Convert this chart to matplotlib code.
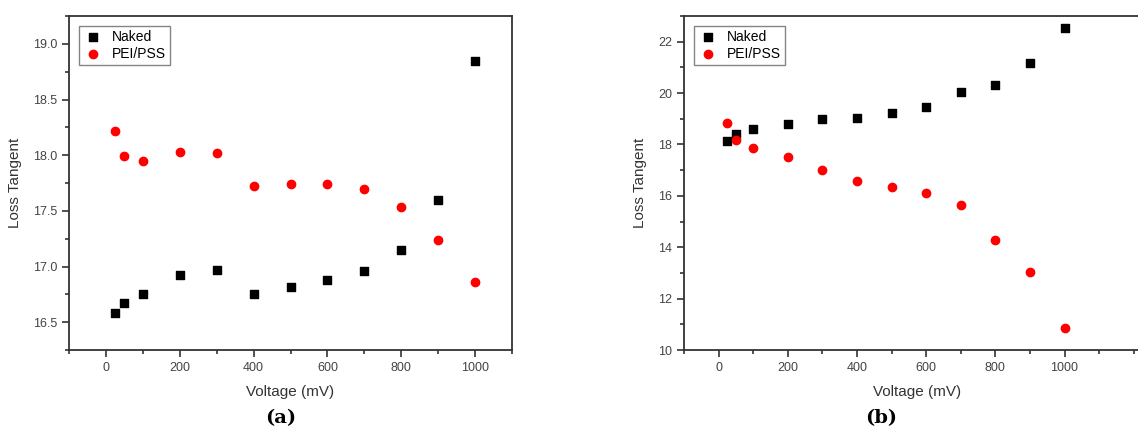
import numpy as np
import matplotlib.pyplot as plt
from matplotlib.ticker import MultipleLocator, FixedLocator

plt.rcParams['font.family'] = ['Liberation Sans', 'DejaVu Sans']

voltage = [25, 50, 100, 200, 300, 400, 500, 600, 700, 800, 900, 1000]
x_major = [0, 200, 400, 600, 800, 1000]

# panel (a)
naked_a = [16.58, 16.67, 16.75, 16.92, 16.97, 16.75, 16.82, 16.88, 16.96, 17.15, 17.60, 18.85]
pei_a = [18.22, 17.99, 17.95, 18.03, 18.02, 17.72, 17.74, 17.74, 17.70, 17.53, 17.24, 16.86]

# panel (b)
naked_b = [18.14, 18.40, 18.62, 18.80, 19.00, 19.03, 19.23, 19.45, 20.03, 20.31, 21.18, 22.55]
pei_b = [18.82, 18.18, 17.87, 17.53, 17.00, 16.57, 16.33, 16.11, 15.65, 14.28, 13.05, 10.86]

fig = plt.figure(figsize=(11.38, 4.32), dpi=100)
ax1 = fig.add_axes([69/1138, 82/432, 443/1138, 334/432])
ax2 = fig.add_axes([684/1138, 82/432, 467/1138, 334/432])

tick_col = '#444444'


def style(ax):
    for s in ax.spines.values():
        s.set_linewidth(1.3)
        s.set_color('#333333')
    ax.tick_params(which='both', direction='out', top=False, right=False,
                   labelsize=9, labelcolor=tick_col, color='#333333', width=1.2)
    ax.tick_params(which='major', length=5)
    ax.tick_params(which='minor', length=3)
    ax.xaxis.set_major_locator(FixedLocator(x_major))
    ax.xaxis.set_minor_locator(MultipleLocator(100))
    ax.set_xlabel('Voltage (mV)', fontsize=11, color='#333333', labelpad=8)
    ax.set_ylabel('Loss Tangent', fontsize=11, color='#333333', labelpad=8)


ax1.scatter(voltage, naked_a, marker='s', s=30, color='black', label='Naked', zorder=3)
ax1.scatter(voltage, pei_a, marker='o', s=36, color='red', label='PEI/PSS', zorder=3)
ax1.set_xlim(-100, 1100)
ax1.set_ylim(16.25, 19.25)
ax1.yaxis.set_major_locator(MultipleLocator(0.5))
ax1.yaxis.set_minor_locator(MultipleLocator(0.25))
ax1.yaxis.set_major_formatter(plt.FormatStrFormatter('%.1f'))
style(ax1)

ax2.scatter(voltage, naked_b, marker='s', s=30, color='black', label='Naked', zorder=3)
ax2.scatter(voltage, pei_b, marker='o', s=36, color='red', label='PEI/PSS', zorder=3)
ax2.set_xlim(-100, 1250)
ax2.set_ylim(10, 23)
ax2.yaxis.set_major_locator(MultipleLocator(2))
ax2.yaxis.set_minor_locator(MultipleLocator(1))
style(ax2)

for ax in (ax1, ax2):
    leg = ax.legend(loc='upper left', fontsize=10, frameon=True, fancybox=False,
                    borderpad=0.3, handletextpad=0.6, labelspacing=0.2,
                    handlelength=1.5, borderaxespad=0.7)
    leg.get_frame().set_edgecolor('#666666')
    leg.get_frame().set_linewidth(1.0)

fig.text(281/1138, 1 - 418/432, '(a)', ha='center', va='center', fontsize=14,
         fontweight='bold', family='DejaVu Serif')
fig.text(881/1138, 1 - 418/432, '(b)', ha='center', va='center', fontsize=14,
         fontweight='bold', family='DejaVu Serif')

fig.savefig('out.png', dpi=100)
